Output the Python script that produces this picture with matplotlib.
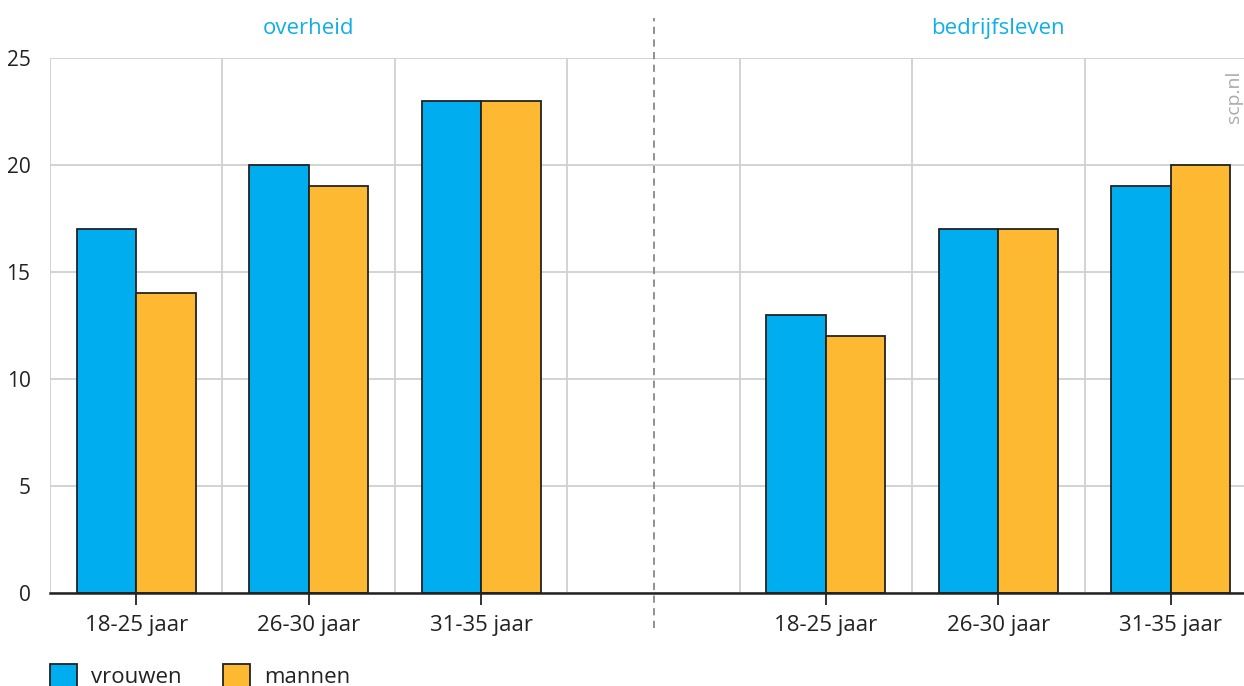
import numpy as np
import matplotlib
matplotlib.use("Agg")
import matplotlib.pyplot as plt
from matplotlib.patches import Patch

plt.rcParams["font.family"] = ["Open Sans", "DejaVu Sans"]

# data
groups = ["overheid", "bedrijfsleven"]
age_labels = ["18-25 jaar", "26-30 jaar", "31-35 jaar"]
vrouwen_overheid = [17, 20, 23]
mannen_overheid = [14, 19, 23]
vrouwen_bedrijf = [13, 17, 19]
mannen_bedrijf = [12, 17, 20]
series_names = ["vrouwen", "mannen"]

BLUE = "#00aeef"
ORANGE = "#fdb932"
TEXT = "#222222"
GRID = "#d0d0d0"
FS = 16

W, H = 1244, 686
fig = plt.figure(figsize=(W / 100, H / 100), dpi=100)
# axes runs past the right edge of the picture, as in the reference
ax = fig.add_axes([50 / W, (H - 593) / H, 1207 / W, 535 / H])

# slots 0-2 left group, slot 3 gap, slots 4-6 right group
pos_left = np.arange(3)
pos_right = np.arange(3) + 4
bw = 0.345
kw = dict(width=bw, align="edge", edgecolor="#222222", linewidth=1.3, zorder=3)
ax.bar(pos_left - bw, vrouwen_overheid, color=BLUE, **kw)
ax.bar(pos_left, mannen_overheid, color=ORANGE, **kw)
ax.bar(pos_right - bw, vrouwen_bedrijf, color=BLUE, **kw)
ax.bar(pos_right, mannen_bedrijf, color=ORANGE, **kw)

ax.set_xlim(-0.5, 6.5)
ax.set_ylim(0, 25)

ticks = np.concatenate([pos_left, pos_right])
ax.set_xticks(ticks)
ax.set_xticklabels(age_labels * 2, fontsize=FS, color=TEXT)
ax.set_xticks(np.arange(-0.5, 7, 1), minor=True)
ax.tick_params(axis="x", which="major", length=8.6, width=1.3, color="#222222", pad=7)
ax.tick_params(axis="x", which="minor", length=0)
ax.grid(axis="x", which="minor", color=GRID, lw=1.3, zorder=0)

ax.set_yticks(np.arange(0, 26, 5))
ax.tick_params(axis="y", length=0, pad=14, labelsize=15, labelcolor=TEXT)
ax.grid(axis="y", which="major", color=GRID, lw=1.3, zorder=0)
ax.grid(axis="x", which="major", visible=False)

for s in ["top", "right", "left"]:
    ax.spines[s].set_visible(False)
ax.spines["bottom"].set_linewidth(1.8)
ax.spines["bottom"].set_color("#222222")
ax.spines["bottom"].set_zorder(4)

# dashed divider between the two groups
ax.axvline(3, ymin=-0.065, ymax=1.075, color="#888888", ls=(0, (4, 3)),
           lw=1.3, clip_on=False, zorder=2)

ax.text(pos_left.mean(), 26.4, groups[0], color="#10aee8", fontsize=FS,
        ha="center", va="center")
ax.text(pos_right.mean(), 26.4, groups[1], color="#10aee8", fontsize=FS,
        ha="center", va="center")

fig.text(1234 / W, 1 - 97 / H, "scp.nl", rotation=90, color="#aaaaaa",
         fontsize=14, ha="center", va="center")

handles = [Patch(facecolor=BLUE, edgecolor="#222222", lw=1.3),
           Patch(facecolor=ORANGE, edgecolor="#222222", lw=1.3)]
fig.legend(handles, series_names, loc="upper left",
           bbox_to_anchor=(50 / W, 1 - 664 / H), ncol=2, frameon=False,
           fontsize=FS, borderpad=0, borderaxespad=0,
           handlelength=1.2, handleheight=1.2, handletextpad=0.65,
           columnspacing=1.87, labelcolor=TEXT)

fig.savefig("out.png", dpi=100)
